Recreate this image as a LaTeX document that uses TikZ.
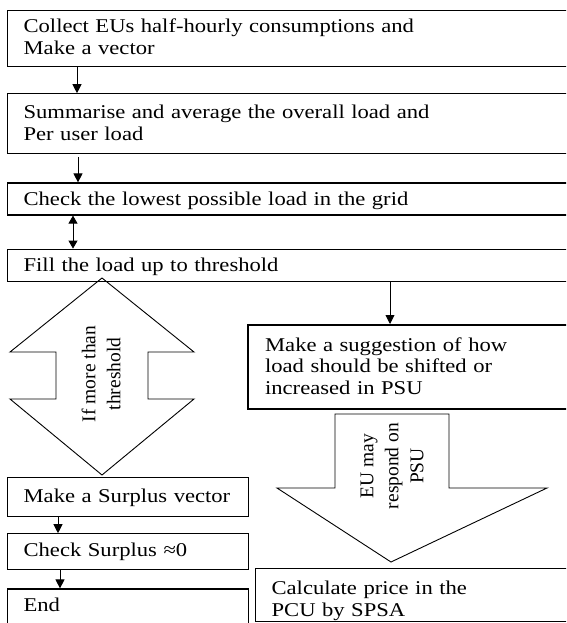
\documentclass[tikz,border=0pt]{standalone}
\usepackage{fontspec}
\setmainfont[FakeStretch=1.16]{Liberation Serif}
\newfontfamily\rotfont{Liberation Serif}
\usepackage{tikz}
\usetikzlibrary{positioning,arrows.meta}

\begin{document}
\begin{tikzpicture}[
    x=1pt, y=1pt,
    node distance=26pt,
    box/.style={rectangle, draw, line width=1.2pt, anchor=north west, align=left,
                inner xsep=16pt, inner ysep=0pt, text width=560pt,
                font=\fontsize{19.5}{21.5}\selectfont},
    smallbox/.style={box, text width=209pt},
    blockarrow/.style={draw, line width=0.9pt},
    rotlabel/.style={rotate=90, align=center, font=\rotfont\fontsize{19.5}{25}\selectfont},
    arrow/.style={-{Triangle[length=9pt, width=9pt]}, line width=0.9pt},
    dblarrow/.style={{Triangle[length=8pt, width=9pt]}-{Triangle[length=8pt, width=9pt]}, line width=0.9pt},
]
  \clip (0,0) rectangle (566,-623);

  % left column
  \node[box, text height=22pt, text depth=34pt] (collect) at (7,-10)
    {Collect EUs half-hourly consumptions and\\Make a vector};
  \node[box, text height=25pt, text depth=35pt, below=26pt of collect.south west, anchor=north west] (summ)
    {Summarise and average the overall load and\\Per user load};
  \node[box, text height=22pt, text depth=10pt, below=28pt of summ.south west, anchor=north west] (lowest)
    {Check the lowest possible load in the grid};
  \node[box, text height=22pt, text depth=10pt, below=33pt of lowest.south west, anchor=north west] (fill)
    {Fill the load up to threshold};

  \node[smallbox, text height=25pt, text depth=14pt] (surplus) at (7,-477) {Make a Surplus vector};
  \node[smallbox, text height=23pt, text depth=13pt, below=16pt of surplus.south west, anchor=north west] (checksur)
    {Check Surplus ≈0};
  \node[smallbox, text height=22pt, text depth=22pt, below=18pt of checksur.south west, anchor=north west] (stop)
    {End};

  % right column
  \node[box, line width=2.2pt, text height=26pt, text depth=58pt, inner xsep=17pt, text width=300pt] (suggest) at (247,-324)
    {Make a suggestion of how\\load should be shifted or\\increased in PSU};
  \node[box, text height=26pt, text depth=27pt, text width=300pt] (calc) at (255,-568)
    {Calculate price in the\\PCU by SPSA};

  % block arrows
  \draw[blockarrow] (102,-278) -- (194,-352) -- (148,-352) -- (148,-399) -- (194,-399)
    -- (102,-475) -- (10,-399) -- (56,-399) -- (56,-352) -- (10,-352) -- cycle;
  \node[rotlabel] (ifmore) at (101,-374) {If more than\\threshold};

  \draw[blockarrow] (335,-414) -- (449,-414) -- (449,-488) -- (547,-488)
    -- (391,-562) -- (277,-488) -- (335,-488) -- cycle;
  \node[rotlabel] (respond) at (392,-466) {EU may\\respond on\\PSU};

  % connectors
  \draw[arrow] ([xshift=70pt]collect.south west) -- ([xshift=70pt]summ.north west);
  \draw[arrow] ([xshift=71pt,yshift=-3pt]summ.south west) -- ([xshift=71pt]lowest.north west);
  \draw[dblarrow] ([xshift=66pt]lowest.south west) -- ([xshift=66pt]fill.north west);
  \draw[arrow] ([xshift=383pt]fill.south west) -- ([xshift=143pt]suggest.north west);
  \draw[arrow] ([xshift=51pt]surplus.south west) -- ([xshift=51pt]checksur.north west);
  \draw[arrow] ([xshift=53pt]checksur.south west) -- ([xshift=53pt]stop.north west);
\end{tikzpicture}
\end{document}
